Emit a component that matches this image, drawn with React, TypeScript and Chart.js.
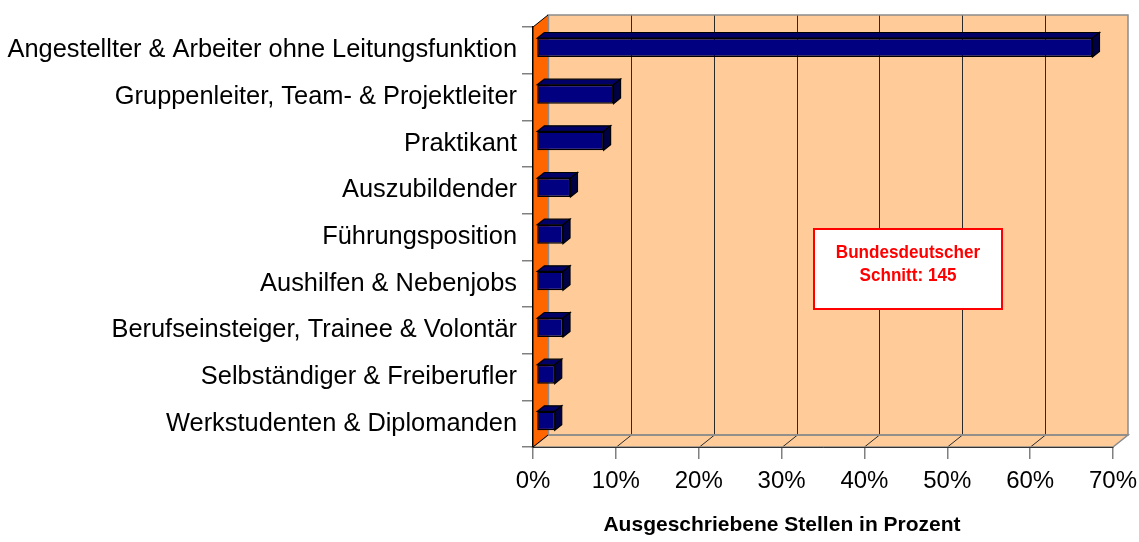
import React, { useEffect, useRef } from 'react';
import { Chart, registerables } from 'chart.js';

Chart.register(...registerables);

const categories = [
  'Angestellter & Arbeiter ohne Leitungsfunktion',
  'Gruppenleiter, Team- & Projektleiter',
  'Praktikant',
  'Auszubildender',
  'Führungsposition',
  'Aushilfen & Nebenjobs',
  'Berufseinsteiger, Trainee & Volontär',
  'Selbständiger & Freiberufler',
  'Werkstudenten & Diplomanden',
];
const values = [67.1, 9.3, 8.1, 4.1, 3.2, 3.2, 3.2, 2.2, 2.2];
const xTickValues = [0, 10, 20, 30, 40, 50, 60, 70];
const axisTitle = 'Ausgeschriebene Stellen in Prozent';
const noteLines = ['Bundesdeutscher', 'Schnitt: 145'];

const FONT = '"Liberation Sans", Arial, Helvetica, sans-serif';
const PEACH = '#FFCC99';
const ORANGE = '#FF6600';
const NAVY = '#000080';
const WALL_DX = 15;
const WALL_DY = -12;
const BAR_OFF_DX = 3.5;
const BAR_OFF_DY = -2.8;
const BAR_DX = 7;
const BAR_DY = -5.6;

function poly(ctx: CanvasRenderingContext2D, pts: number[][]) {
  ctx.beginPath();
  ctx.moveTo(pts[0][0], pts[0][1]);
  for (let i = 1; i < pts.length; i++) ctx.lineTo(pts[i][0], pts[i][1]);
  ctx.closePath();
}

const wallsPlugin = {
  id: 'walls3d',
  beforeDraw(chart: any) {
    const ctx: CanvasRenderingContext2D = chart.ctx;
    const { left, right, top, bottom } = chart.chartArea;
    const xs = chart.scales.x;
    ctx.save();
    // back wall
    ctx.fillStyle = PEACH;
    ctx.fillRect(left + WALL_DX, top + WALL_DY, right - left, bottom - top);
    // floor
    poly(ctx, [
      [left, bottom],
      [right, bottom],
      [right + WALL_DX, bottom + WALL_DY],
      [left + WALL_DX, bottom + WALL_DY],
    ]);
    ctx.fill();
    // gridlines
    ctx.lineWidth = 1;
    ctx.strokeStyle = '#2a2a2a';
    xTickValues.forEach((v) => {
      if (v === xTickValues[0] || v === xTickValues[xTickValues.length - 1]) return;
      const px = Math.round(xs.getPixelForValue(v)) + 0.5;
      ctx.beginPath();
      ctx.moveTo(px + WALL_DX, top + WALL_DY);
      ctx.lineTo(px + WALL_DX, bottom + WALL_DY);
      ctx.moveTo(px, bottom);
      ctx.lineTo(px + WALL_DX, bottom + WALL_DY);
      ctx.stroke();
    });
    // wall outlines
    ctx.strokeStyle = '#8c8c8c';
    ctx.lineWidth = 1.5;
    ctx.strokeRect(left + WALL_DX, top + WALL_DY, right - left, bottom - top);
    poly(ctx, [
      [left, bottom],
      [right, bottom],
      [right + WALL_DX, bottom + WALL_DY],
      [left + WALL_DX, bottom + WALL_DY],
    ]);
    ctx.stroke();
    // left wall
    poly(ctx, [
      [left, top],
      [left + WALL_DX, top + WALL_DY],
      [left + WALL_DX, bottom + WALL_DY],
      [left, bottom],
    ]);
    ctx.fillStyle = ORANGE;
    ctx.fill();
    ctx.strokeStyle = '#8c8c8c';
    ctx.lineWidth = 1.5;
    ctx.beginPath();
    ctx.moveTo(left + WALL_DX + 0.5, top + WALL_DY);
    ctx.lineTo(left + WALL_DX + 0.5, bottom + WALL_DY);
    ctx.stroke();
    ctx.strokeStyle = '#000';
    ctx.lineWidth = 1;
    ctx.beginPath();
    ctx.moveTo(left, top);
    ctx.lineTo(left + WALL_DX, top + WALL_DY);
    ctx.moveTo(left, bottom);
    ctx.lineTo(left + WALL_DX, bottom + WALL_DY);
    ctx.stroke();
    ctx.restore();
  },
  beforeDatasetsDraw(chart: any) {
    const ctx: CanvasRenderingContext2D = chart.ctx;
    ctx.save();
    ctx.translate(BAR_OFF_DX, BAR_OFF_DY);
    const meta = chart.getDatasetMeta(0);
    meta.data.forEach((el: any) => {
      const { x, y, base, height } = el.getProps(['x', 'y', 'base', 'height'], true);
      const t = y - height / 2;
      const b = y + height / 2;
      ctx.lineWidth = 1.2;
      ctx.strokeStyle = '#000';
      // top face
      poly(ctx, [
        [base, t],
        [x, t],
        [x + BAR_DX, t + BAR_DY],
        [base + BAR_DX, t + BAR_DY],
      ]);
      ctx.fillStyle = '#000066';
      ctx.fill();
      ctx.stroke();
      // side face
      poly(ctx, [
        [x, t],
        [x + BAR_DX, t + BAR_DY],
        [x + BAR_DX, b + BAR_DY],
        [x, b],
      ]);
      ctx.fillStyle = '#000045';
      ctx.fill();
      ctx.stroke();
    });
  },
  afterDatasetsDraw(chart: any) {
    chart.ctx.restore();
  },
  afterDraw(chart: any) {
    const ctx: CanvasRenderingContext2D = chart.ctx;
    ctx.save();
    // note box
    const bx = 814, by = 229, bw = 188, bh = 80;
    ctx.fillStyle = '#fff';
    ctx.fillRect(bx, by, bw, bh);
    ctx.strokeStyle = '#FF0000';
    ctx.lineWidth = 2;
    ctx.strokeRect(bx, by, bw, bh);
    ctx.fillStyle = '#FF0000';
    ctx.font = `bold 19px ${FONT}`;
    ctx.textAlign = 'center';
    ctx.textBaseline = 'middle';
    [253, 276].forEach((ly, i) => {
      ctx.save();
      ctx.translate(bx + bw / 2, ly);
      ctx.scale(0.9, 1);
      ctx.fillText(noteLines[i], 0, 0);
      ctx.restore();
    });
    // axis title
    ctx.fillStyle = '#000';
    ctx.font = `bold 21px ${FONT}`;
    ctx.fillText(axisTitle, 782, 525);
    ctx.restore();
  },
};

export default function App() {
  const ref = useRef<HTMLCanvasElement>(null);
  useEffect(() => {
    if (!ref.current) return;
    const chart = new Chart(ref.current, {
      type: 'bar',
      data: {
        labels: categories,
        datasets: [
          {
            data: values,
            backgroundColor: NAVY,
            borderColor: '#000',
            borderWidth: 1.5,
            borderSkipped: false,
            barPercentage: 0.9,
            categoryPercentage: 0.45,
            clip: false as any,
          },
        ],
      },
      options: {
        indexAxis: 'y',
        animation: false,
        responsive: false,
        layout: { padding: { top: 27, right: 26, left: 0, bottom: 0 } },
        plugins: { legend: { display: false }, tooltip: { enabled: false }, title: { display: false } },
        scales: {
          x: {
            min: 0,
            max: 70,
            afterFit: (s: any) => {
              s.height = 95;
              s.paddingLeft = 0;
              s.paddingRight = 0;
            },
            ticks: {
              stepSize: 10,
              callback: (v: any) => `${v}%`,
              font: { family: FONT, size: 24 },
              color: '#000',
              padding: 8,
              maxRotation: 0,
            },
            grid: { drawOnChartArea: false, drawTicks: true, tickLength: 12, color: '#808080', lineWidth: 1.5 },
            border: { display: true, color: '#333', width: 1 },
          },
          y: {
            afterFit: (s: any) => {
              s.width = 533;
              s.paddingTop = 0;
              s.paddingBottom = 0;
            },
            ticks: {
              font: { family: FONT, size: 25.4 },
              color: '#000',
              padding: 5,
              autoSkip: false,
            },
            grid: { offset: true, drawOnChartArea: false, drawTicks: true, tickLength: 11, color: '#808080', lineWidth: 1.5 },
            border: { display: true, color: '#000', width: 1.5 },
          },
        },
      },
      plugins: [wallsPlugin],
    });
    return () => chart.destroy();
  }, []);
  return (
    <div style={{ position: 'absolute', left: 0, top: 0, width: 1139, height: 542, background: '#fff' }}>
      <canvas ref={ref} width={1139} height={542} />
    </div>
  );
}
